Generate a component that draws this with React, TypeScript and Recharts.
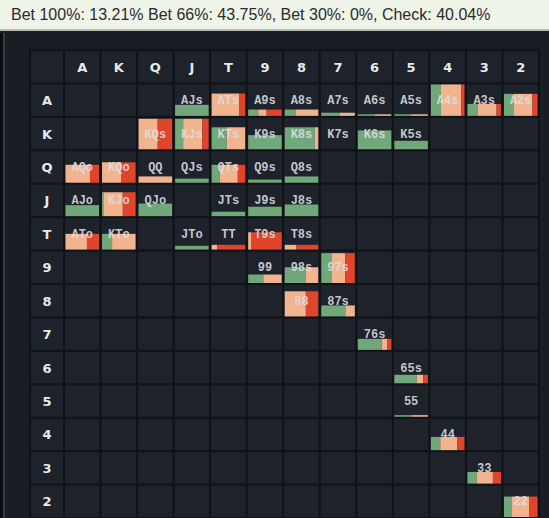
import React from 'react';
import { ScatterChart, Scatter, XAxis, YAxis } from 'recharts';

// grid geometry
const W = 549;
const H = 518;
const MARGIN = { top: 50, right: 10, bottom: 0, left: 30 };
const X_MIN = -0.93; // label column is a little narrower than a hand cell
const X_MAX = 13;
const Y_MIN = -1;
const Y_MAX = 13;
const UNIT_X = (W - MARGIN.left - MARGIN.right) / (X_MAX - X_MIN);
const UNIT_Y = (H - MARGIN.top - MARGIN.bottom) / (Y_MAX - Y_MIN);

const COLORS = {
  check: '#70a87a',
  bet66: '#f2b48f',
  bet100: '#e0442b',
  cell: '#1e222b',
  line: '#0f1216',
  panel: '#1a1d24',
};

const TITLE = 'Bet 100%: 13.21% Bet 66%: 43.75%, Bet 30%: 0%, Check: 40.04%';

const RANKS = ['A', 'K', 'Q', 'J', 'T', '9', '8', '7', '6', '5', '4', '3', '2'];

const HANDS = [
  'AJs', 'ATs', 'A9s', 'A8s', 'A7s', 'A6s', 'A5s', 'A4s', 'A3s', 'A2s',
  'KQs', 'KJs', 'KTs', 'K9s', 'K8s', 'K7s', 'K6s', 'K5s',
  'AQo', 'KQo', 'QQ', 'QJs', 'QTs', 'Q9s', 'Q8s',
  'AJo', 'KJo', 'QJo', 'JTs', 'J9s', 'J8s',
  'ATo', 'KTo', 'JTo', 'TT', 'T9s', 'T8s',
  '99', '98s', '97s',
  '88', '87s',
  '76s', '65s', '55', '44', '33', '22',
];

// share of the combo that is in range (bar height)
const WEIGHT = [
  0.35, 0.71, 0.2, 0.2, 0.1, 0.05, 0.05, 1, 0.38, 0.7,
  0.97, 0.97, 0.7, 0.45, 0.7, 0, 0.6, 0.27,
  0.57, 0.65, 0.2, 0.13, 0.57, 0.1, 0.2,
  0.35, 0.76, 0.4, 0.14, 0.3, 0.37,
  0.5, 0.5, 0.12, 0.15, 0.55, 0.15,
  0.27, 0.5, 0.95,
  0.8, 0.35,
  0.35, 0.27, 0.05, 0.42, 0.37, 0.65,
];

// action split, left to right: check, bet 66%, bet 100%
const CHECK = [
  1, 0, 0.3, 0.33, 0.55, 0.5, 0.5, 0.3, 0.3, 0.3,
  0, 0.24, 0.45, 1, 0.9, 1, 1, 1,
  0, 0, 0, 1, 0.24, 1, 1,
  1, 0.04, 1, 1, 1, 1,
  0, 0.3, 1, 0, 0, 0,
  0.45, 0.63, 0.32,
  0, 0.72,
  0.71, 0.67, 0.5, 0.28, 0.28, 0.24,
];
const BET66 = [
  0, 0.83, 0.25, 0.67, 0.45, 0.5, 0.5, 0.6, 0.57, 0.55,
  0.57, 0.57, 0.55, 0, 0.1, 0, 0, 0,
  0.73, 0.58, 1, 0, 0.54, 0, 0,
  0, 0.58, 0, 0, 0, 0,
  0.64, 0.7, 0, 0.17, 0.1, 0.35,
  0.55, 0.37, 0.4,
  0.63, 0.28,
  0.16, 0.19, 0.5, 0.51, 0.48, 0.52,
];
const BET100 = [
  0, 0.17, 0.45, 0, 0, 0, 0, 0.1, 0.13, 0.15,
  0.43, 0.19, 0, 0, 0, 0, 0, 0,
  0.27, 0.42, 0, 0, 0.22, 0, 0,
  0, 0.38, 0, 0, 0, 0,
  0.36, 0, 0, 0.83, 0.9, 0.65,
  0, 0, 0.28,
  0.37, 0,
  0.13, 0.14, 0, 0.21, 0.24, 0.24,
];

// suited above the diagonal, offsuit below
const handCell = (hand: string) => {
  const a = RANKS.indexOf(hand[0]);
  const b = RANKS.indexOf(hand[1]);
  if (hand[2] === 'o') return { row: b, col: a };
  return { row: a, col: b };
};

const handData = HANDS.map((hand, i) => {
  const { row, col } = handCell(hand);
  return {
    x: col + 0.5,
    y: row + 0.5,
    hand,
    weight: WEIGHT[i],
    check: CHECK[i],
    bet66: BET66[i],
    bet100: BET100[i],
  };
});

const gridData: { x: number; y: number; w: number }[] = [];
for (let r = -1; r < 13; r++) {
  gridData.push({ x: X_MIN / 2, y: r + 0.5, w: -X_MIN });
  for (let c = 0; c < 13; c++) gridData.push({ x: c + 0.5, y: r + 0.5, w: 1 });
}

const colLabels = RANKS.map((rank, i) => ({ x: i + 0.5, y: -0.5, rank }));
const rowLabels = RANKS.map((rank, i) => ({ x: X_MIN / 2, y: i + 0.5, rank }));

const GridCell = (props: any) => {
  const { cx, cy, payload } = props;
  const w = payload.w * UNIT_X - 2;
  const h = UNIT_Y - 2;
  return <rect x={cx - w / 2} y={cy - h / 2} width={w} height={h} fill={COLORS.cell} />;
};

const RankLabel = (props: any) => {
  const { cx, cy, payload } = props;
  return (
    <text
      x={cx}
      y={cy}
      dy={5}
      textAnchor="middle"
      fontFamily="DejaVu Sans, sans-serif"
      fontWeight="bold"
      fontSize={13}
      fill="#e8e9eb"
    >
      {payload.rank}
    </text>
  );
};

const HandCell = (props: any) => {
  const { cx, cy, payload } = props;
  const innerW = UNIT_X - 3;
  const innerH = UNIT_Y - 2;
  const left = cx - innerW / 2;
  const bottom = cy + innerH / 2;
  const barH = payload.weight * innerH;
  const parts = [
    { v: payload.check, fill: COLORS.check },
    { v: payload.bet66, fill: COLORS.bet66 },
    { v: payload.bet100, fill: COLORS.bet100 },
  ];
  let acc = 0;
  return (
    <g>
      {barH > 0 &&
        parts.map((p, k) => {
          const x = left + acc * innerW;
          acc += p.v;
          if (p.v <= 0) return null;
          return (
            <rect key={k} x={x} y={bottom - barH} width={p.v * innerW} height={barH} fill={p.fill} />
          );
        })}
      <text
        x={cx}
        y={cy}
        dy={4}
        textAnchor="middle"
        fontFamily="Liberation Mono, monospace"
        fontWeight="bold"
        fontSize={12}
        fill="#dcdde0"
        fillOpacity={0.9}
      >
        {payload.hand}
      </text>
    </g>
  );
};

export default function App() {
  return (
    <div
      style={{
        position: 'absolute',
        left: 0,
        top: 0,
        width: W,
        height: H,
        background: COLORS.panel,
        overflow: 'hidden',
      }}
    >
      <div
        style={{
          position: 'absolute',
          left: 0,
          top: 0,
          width: W,
          height: 31,
          background: '#eef4e8',
          borderBottom: '2px solid #b8bcb6',
          fontFamily: 'Liberation Sans, Arial, sans-serif',
          fontSize: 16,
          color: '#2b2b2b',
          lineHeight: '29px',
          paddingLeft: 11,
          boxSizing: 'border-box',
          whiteSpace: 'nowrap',
        }}
      >
        {TITLE}
      </div>
      <div style={{ position: 'absolute', left: 3, top: 33, width: 2, height: H - 33, background: '#3a3d42' }} />
      <div style={{ position: 'absolute', left: 0, top: 33, width: 3, height: H - 33, background: '#0c0d10' }} />
      <div style={{ position: 'absolute', left: MARGIN.left - 1, top: MARGIN.top - 1, width: W - MARGIN.left - MARGIN.right + 2, height: H - MARGIN.top + 1, background: COLORS.line }} />
      <div style={{ position: 'absolute', left: 0, top: 0 }}>
        <ScatterChart width={W} height={H} margin={MARGIN}>
          <XAxis type="number" dataKey="x" domain={[X_MIN, X_MAX]} allowDataOverflow hide />
          <YAxis type="number" dataKey="y" domain={[Y_MIN, Y_MAX]} allowDataOverflow reversed hide />
          <Scatter data={gridData} shape={GridCell} isAnimationActive={false} />
          <Scatter data={colLabels} shape={RankLabel} isAnimationActive={false} />
          <Scatter data={rowLabels} shape={RankLabel} isAnimationActive={false} />
          <Scatter data={handData} shape={HandCell} isAnimationActive={false} />
        </ScatterChart>
      </div>
    </div>
  );
}
